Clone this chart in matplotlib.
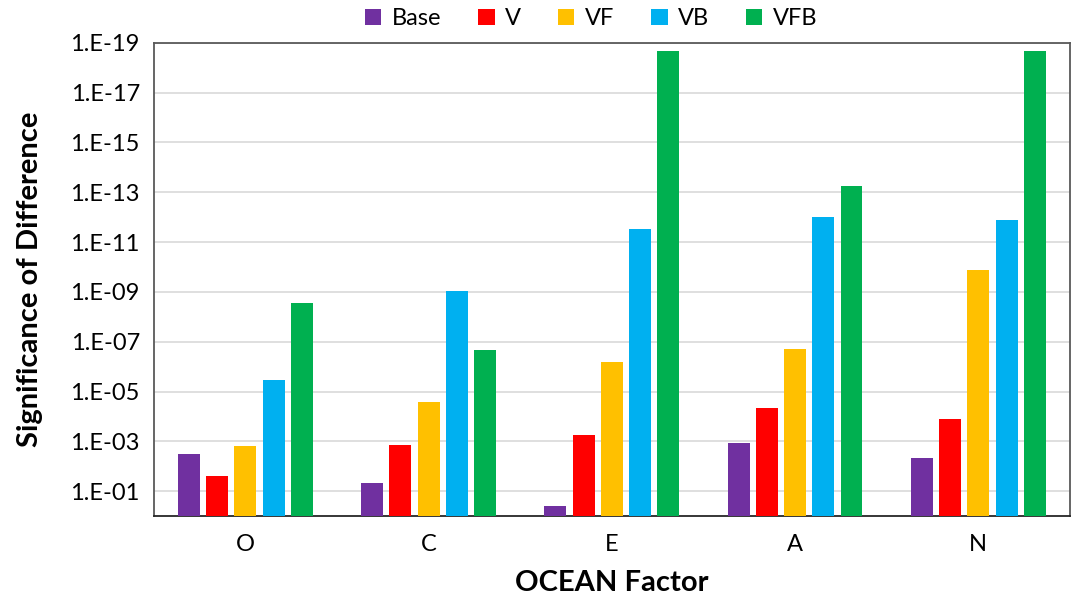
import matplotlib.pyplot as plt
import numpy as np

plt.rcParams['font.family'] = ['Lato', 'DejaVu Sans']

# p-values (log axis, inverted)
factors = ['O', 'C', 'E', 'A', 'N']
series = ['Base', 'V', 'VF', 'VB', 'VFB']
base = [3.1e-3, 4.6e-2, 4.0e-1, 1.1e-3, 4.7e-3]
v = [2.4e-2, 1.4e-3, 5.5e-4, 4.5e-5, 1.3e-4]
vf = [1.5e-3, 2.6e-5, 6.2e-7, 2.0e-7, 1.3e-10]
vb = [3.4e-6, 8.9e-10, 2.9e-12, 1.0e-12, 1.3e-12]
vfb = [2.7e-9, 2.2e-7, 2.1e-19, 5.6e-14, 2.1e-19]
colors = ['#7030A0', '#FF0000', '#FFC000', '#00B0F0', '#00B050']
tick_exps = [1, 3, 5, 7, 9, 11, 13, 15, 17, 19]

fig = plt.figure(figsize=(10.71, 6.01), dpi=100)
ax = fig.add_axes([0.1435, 0.141, 0.8555, 0.788])

x = np.arange(len(factors))
step = 0.154
width = 0.12
for i, (name, vals) in enumerate(zip(series, [base, v, vf, vb, vfb])):
    vals = np.array(vals)
    # bars hang from 1.0 on the inverted log axis
    ax.bar(x + (i - 2) * step, 1.0 - vals, bottom=vals, width=width,
           color=colors[i], label=name, zorder=3)

ax.set_yscale('log')
ax.set_ylim(1.0, 1e-19)
ax.set_xlim(-0.5, len(factors) - 0.5)
ax.set_yticks([10.0 ** -e for e in tick_exps])
ax.set_yticklabels(['1.E-%02d' % e for e in tick_exps])
ax.minorticks_off()
ax.set_xticks(x)
ax.set_xticklabels(factors)
ax.tick_params(axis='both', length=0, labelsize=17, colors='#000000')
ax.tick_params(axis='x', pad=13)
ax.tick_params(axis='y', pad=10)
ax.grid(axis='y', color='#d9d9d9', linewidth=1.2, zorder=0)

for s in ['left', 'top', 'right']:
    ax.spines[s].set_color('#595959')
    ax.spines[s].set_linewidth(1.3)
ax.spines['bottom'].set_color('#262626')
ax.spines['bottom'].set_linewidth(1.3)

ax.set_ylabel('Significance of Difference', fontsize=21, fontweight='bold')
ax.yaxis.set_label_coords(-0.135, 0.5)
ax.set_xlabel('OCEAN Factor', fontsize=21, fontweight='bold')
ax.xaxis.set_label_coords(0.5, -0.141)
ax.xaxis.label.set_va('center')
ax.yaxis.label.set_va('center')

fig.legend(loc='center', bbox_to_anchor=(0.552, 0.969), ncol=5,
           frameon=False, fontsize=17, handlelength=0.7, handleheight=0.7,
           handletextpad=0.45, columnspacing=1.55)

fig.savefig('out.png', dpi=100)
